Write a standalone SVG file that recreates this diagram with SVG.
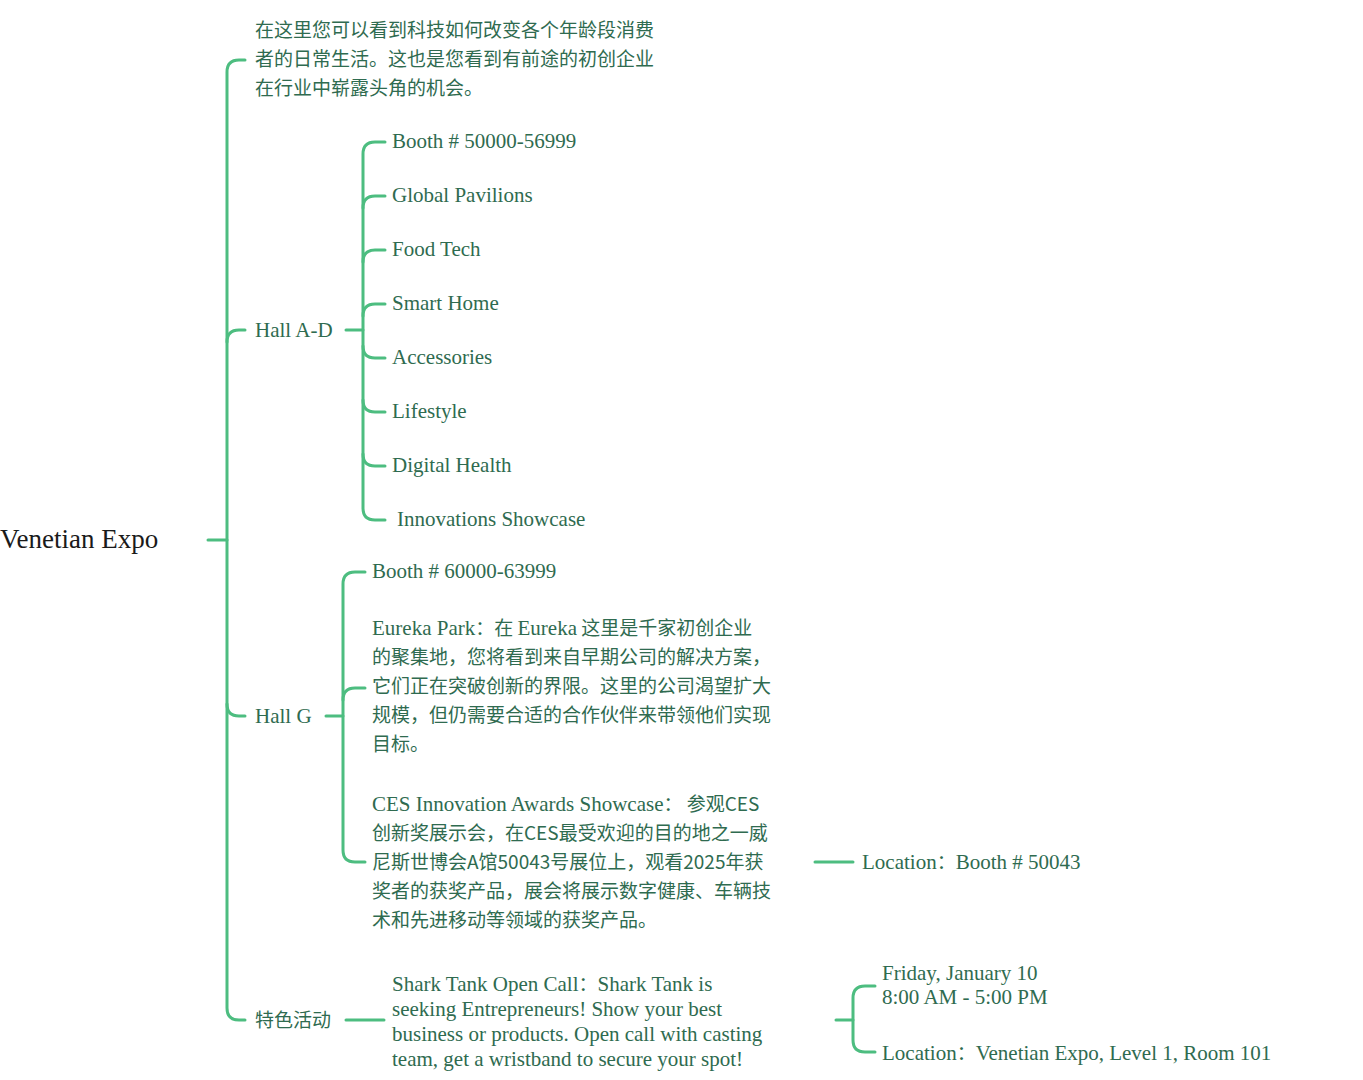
<svg xmlns="http://www.w3.org/2000/svg" width="1363" height="1080" viewBox="0 0 1363 1080">
<style>
.c{fill:none;stroke:#4dbd80;stroke-width:3;stroke-linecap:round}
text{font-family:"Liberation Serif","Noto Sans CJK SC",serif;font-size:21px;fill:#2f6b50}
.z{font-family:"Noto Sans CJK SC",sans-serif;font-size:19px}
</style>
<rect width="1363" height="1080" fill="#fff"/>
<g id="connectors">
<path class="c" d="M208 540H227"/>
<path class="c" d="M245 60H239Q227 60 227 72V1008Q227 1020 239 1020H245"/>
<path class="c" d="M227 342Q227 330 239 330H245M227 704Q227 716 239 716H245"/>
<path class="c" d="M346 330H363"/>
<path class="c" d="M385 142H375Q363 142 363 154V508Q363 520 375 520H385"/>
<path class="c" d="M385 196H375Q363 196 363 208M385 250H375Q363 250 363 262M385 304H375Q363 304 363 316M385 358H375Q363 358 363 346M385 412H375Q363 412 363 400M385 466H375Q363 466 363 454"/>
<path class="c" d="M326 716H343"/>
<path class="c" d="M365 572H355Q343 572 343 584V850Q343 862 355 862H365"/>
<path class="c" d="M365 688H355Q343 688 343 700"/>
<path class="c" d="M815 862H853"/>
<path class="c" d="M346 1020H384"/>
<path class="c" d="M836 1020H853"/>
<path class="c" d="M875 986H865Q853 986 853 998V1040Q853 1052 865 1052H875"/>
</g>
<g id="root"><text x="0" y="548" style="font-size:27px;fill:#1a1a1a">Venetian Expo</text></g>
<g id="desc"><text class="z" x="255" y="37">在这里您可以看到科技如何改变各个年龄段消费</text><text class="z" x="255" y="66">者的日常生活。这也是您看到有前途的初创企业</text><text class="z" x="255" y="95">在行业中崭露头角的机会。</text></g>
<g id="hallad"><text x="255" y="337">Hall A-D</text></g>
<g id="ad-items">
<text x="392" y="148">Booth # 50000-56999</text>
<text x="392" y="202">Global Pavilions</text>
<text x="392" y="256">Food Tech</text>
<text x="392" y="310">Smart Home</text>
<text x="392" y="364">Accessories</text>
<text x="392" y="418">Lifestyle</text>
<text x="392" y="472">Digital Health</text>
<text x="397" y="526">Innovations Showcase</text>
</g>
<g id="hallg"><text x="255" y="723">Hall G</text></g>
<g id="g-booth"><text x="372" y="578">Booth # 60000-63999</text></g>
<g id="eureka"><text x="372" y="635">Eureka Park<tspan class="z">：在 </tspan>Eureka<tspan class="z"> 这里是千家初创企业</tspan></text>
<text class="z" x="372" y="664">的聚集地，您将看到来自早期公司的解决方案，</text>
<text class="z" x="372" y="693">它们正在突破创新的界限。这里的公司渴望扩大</text>
<text class="z" x="372" y="722">规模，但仍需要合适的合作伙伴来带领他们实现</text>
<text class="z" x="372" y="751">目标。</text></g>
<g id="ces"><text x="372" y="811">CES Innovation Awards Showcase<tspan class="z">： 参观CES</tspan></text>
<text class="z" x="372" y="840">创新奖展示会，在CES最受欢迎的目的地之一威</text>
<text class="z" x="372" y="869">尼斯世博会A馆50043号展位上，观看2025年获</text>
<text class="z" x="372" y="898">奖者的获奖产品，展会将展示数字健康、车辆技</text>
<text class="z" x="372" y="927">术和先进移动等领域的获奖产品。</text></g>
<g id="ces-loc"><text x="862" y="869">Location<tspan class="z">：</tspan>Booth # 50043</text></g>
<g id="events"><text class="z" x="255" y="1027">特色活动</text></g>
<g id="shark"><text x="392" y="991">Shark Tank Open Call<tspan class="z">：</tspan>Shark Tank is</text>
<text x="392" y="1016">seeking Entrepreneurs! Show your best</text>
<text x="392" y="1041">business or products. Open call with casting</text>
<text x="392" y="1066">team, get a wristband to secure your spot!</text></g>
<g id="time"><text x="882" y="980">Friday, January 10</text><text x="882" y="1004">8:00 AM - 5:00 PM</text></g>
<g id="shark-loc"><text x="882" y="1060">Location<tspan class="z">：</tspan>Venetian Expo, Level 1, Room 101</text></g>
</svg>
